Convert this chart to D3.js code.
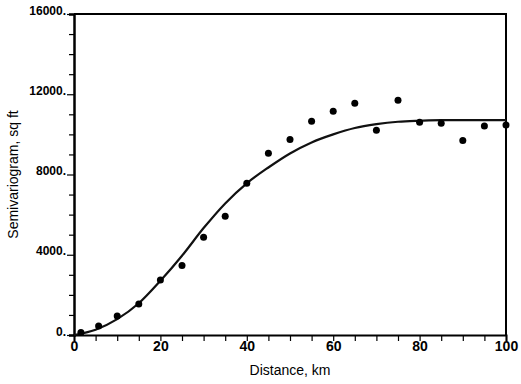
<!DOCTYPE html>
<html>
<head>
<meta charset="utf-8">
<script src="https://cdn.jsdelivr.net/npm/d3@7"></script>
<style>
  html, body { margin: 0; padding: 0; background: #fff; }
  svg { display: block; }
  text { font-family: "Liberation Sans", Arial, sans-serif; fill: #000; }
</style>
</head>
<body>
<svg id="chart" width="521" height="384"></svg>
<script>
// Observed semivariogram points
const distances = [1.6, 5.7, 10, 15, 20, 25, 30, 35, 40, 45, 50, 55, 60, 65, 70, 75, 80, 85, 90, 95, 100];
const semivariance = [120, 450, 950, 1550, 2740, 3470, 4870, 5920, 7560, 9060, 9750, 10650, 11150, 11550, 10200, 11700, 10600, 10550, 9700, 10420, 10470];

// Fitted model curve
const modelDistance = [0, 5, 10, 15, 20, 25, 30, 35, 40, 45, 50, 55, 60, 65, 70, 75, 80, 85, 90, 95, 100];
const modelValue = [0, 260, 790, 1580, 2700, 3950, 5330, 6560, 7560, 8350, 9050, 9600, 10000, 10320, 10510, 10630, 10680, 10710, 10710, 10710, 10710];

const yTickLabels = [0, 4000, 8000, 12000, 16000];
const xTickLabels = [0, 20, 40, 60, 80, 100];
const xTitle = "Distance, km";
const yTitle = "Semivariogram, sq ft";

const W = 521, H = 384;
const margin = { left: 74, right: 15, top: 14, bottom: 49 };
const svg = d3.select("#chart");

const x = d3.scaleLinear().domain([0, 100]).range([margin.left, W - margin.right]);
const y = d3.scaleLinear().domain([0, 16000]).range([H - margin.bottom, margin.top]);

// Frame (top and right)
svg.append("path")
  .attr("d", `M${x(0)},${y(16000)}H${x(100)}V${y(0)}`)
  .attr("fill", "none").attr("stroke", "#000").attr("stroke-width", 2);

// Left axis: minor ticks every 1000
const yAxis = d3.axisLeft(y)
  .tickValues(d3.range(0, 16001, 1000))
  .tickSize(5)
  .tickFormat(d => yTickLabels.includes(d) ? d + "." : "");
const gy = svg.append("g").attr("transform", `translate(${x(0)},0)`).call(yAxis);
gy.select(".domain").attr("stroke-width", 2.5);
gy.selectAll(".tick line").attr("stroke-width", 1.2)
  .attr("x2", d => yTickLabels.includes(d) ? -7 : -5);
gy.selectAll(".tick text")
  .attr("x", -8).attr("dy", "0")
  .attr("font-size", 12).attr("font-weight", "bold")
  .style("font-family", "'Liberation Sans', Arial, sans-serif");

// Bottom axis: ticks every 5
const xAxis = d3.axisBottom(x)
  .tickValues(d3.range(0, 101, 5))
  .tickSize(6)
  .tickFormat(d => xTickLabels.includes(d) ? d : "");
const gx = svg.append("g").attr("transform", `translate(0,${y(0)})`).call(xAxis);
gx.select(".domain").attr("stroke-width", 2);
gx.selectAll(".tick line").attr("stroke-width", 1.2);
gx.selectAll(".tick text")
  .attr("y", 6).attr("dy", "0.71em")
  .attr("font-size", 14).attr("font-weight", "bold")
  .style("font-family", "'Liberation Sans', Arial, sans-serif");

// Model curve
const line = d3.line()
  .x((d, i) => x(modelDistance[i]))
  .y((d, i) => y(modelValue[i]))
  .curve(d3.curveMonotoneX);
svg.append("path")
  .datum(modelValue)
  .attr("d", line)
  .attr("fill", "none").attr("stroke", "#111").attr("stroke-width", 2.2);

// Points
svg.append("g").selectAll("circle")
  .data(distances)
  .join("circle")
  .attr("cx", d => x(d))
  .attr("cy", (d, i) => y(semivariance[i]))
  .attr("r", 3.5)
  .attr("fill", "#000");

// Titles
svg.append("text")
  .attr("x", (x(0) + x(100)) / 2).attr("y", 375)
  .attr("text-anchor", "middle").attr("font-size", 14)
  .text(xTitle);
svg.append("text")
  .attr("transform", `translate(18,${(y(0) + y(16000)) / 2}) rotate(-90)`)
  .attr("text-anchor", "middle").attr("font-size", 14)
  .text(yTitle);
</script>
</body>
</html>
